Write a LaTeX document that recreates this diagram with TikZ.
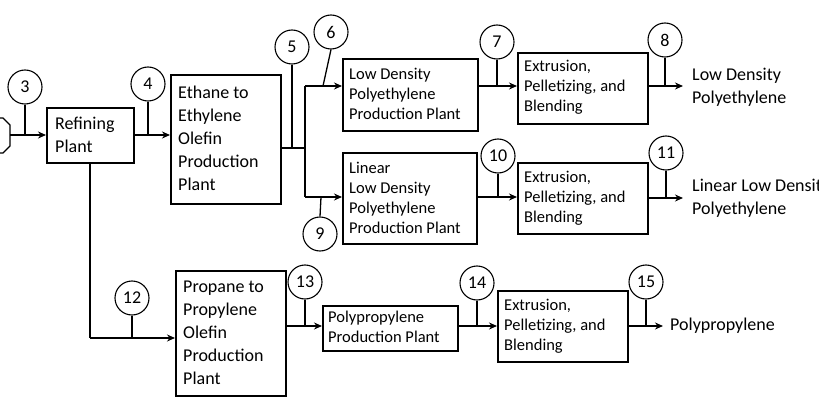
\documentclass[tikz,border=0pt]{standalone}
\usepackage{fontspec}
\setmainfont{Carlito}
\usetikzlibrary{arrows.meta}
\begin{document}
\begin{tikzpicture}[x=1pt,y=-1pt,
 box/.style={draw,line width=1.6pt,anchor=north west,inner sep=0pt},
 txt/.style={align=left,anchor=west,inner sep=0pt,font=\fontsize{18}{23}\selectfont},
 stxt/.style={align=left,anchor=west,inner sep=0pt,font=\fontsize{16.5}{20}\selectfont},
 num/.style={draw,circle,line width=1.1pt,minimum size=34pt,inner sep=0pt,font=\fontsize{18}{18}\selectfont},
 ar/.style={line width=1.3pt,-{Stealth[length=8pt,width=7pt]}},
 ln/.style={line width=1.3pt}]
\useasboundingbox (0,0) rectangle (819,409);
\clip (0,0) rectangle (819,409);
% boxes
\newcommand{\bx}[5]{\node[box,minimum width=#4-#2,minimum height=#5-#3] (#1) at (#2,#3) {};}
\bx{ref}{46}{107}{133}{162}
\bx{eth}{170}{74}{280}{203}
\bx{ldpe}{342}{58}{477}{130}
\bx{lldpe}{342}{152}{476}{243}
\bx{ex1}{517}{52}{647}{123}
\bx{ex2}{517}{162}{647}{233}
\bx{pro}{175}{270}{285}{395}
\bx{pp}{322}{305}{457}{350}
\bx{ex3}{497}{290}{627}{361}
\node[txt] at (55,135) {Refining\\Plant};
\node[txt] at (178,138) {Ethane to\\Ethylene\\Olefin\\Production\\Plant};
\node[stxt] at (349,94) {Low Density\\Polyethylene\\Production Plant};
\node[stxt] at (349,198) {Linear\\Low Density\\Polyethylene\\Production Plant};
\node[stxt] at (524,87) {Extrusion,\\Pelletizing, and\\Blending};
\node[stxt] at (524,198) {Extrusion,\\Pelletizing, and\\Blending};
\node[txt] at (183,333) {Propane to\\Propylene\\Olefin\\Production\\Plant};
\node[stxt] at (328,327) {Polypropylene\\Production Plant};
\node[stxt] at (504,326) {Extrusion,\\Pelletizing, and\\Blending};
\node[txt] (o1) at (692,87) {Low Density\\Polyethylene};
\node[txt] (o2) at (692,198) {Linear Low Density\\Polyethylene};
\node[txt] (o3) at (670,326) {Polypropylene};
% feed
\draw[line width=1.4pt,fill=white] (-10,118) -- (3,118) -- (10,125) -- (10,146) -- (3,153) -- (-10,153);
\coordinate (fd) at (10,135);
\draw[ar] (fd) -- (ref.west|-fd);
\coordinate (br) at (305,148);
\draw[ln] (eth.east|-br) -- (br);
\coordinate (bt) at (305,86); \coordinate (bb) at (305,197);
\draw[ln] (bt) -- (bb);
\draw[ar] (bt) -- (ldpe.west|-bt);
\draw[ar] (bb) -- (lldpe.west|-bb);
\draw[ar] (ref.east|-fd) -- (eth.west|-fd);
\draw[ar] (ldpe.east|-bt) -- (ex1.west|-bt);
\draw[ar] (lldpe.east|-bb) -- (ex2.west|-bb);
\coordinate (e1) at (683,86); \coordinate (e2) at (683,198);
\draw[ar] (ex1.east|-bt) -- (e1);
\draw[ar] (ex2.east|-e2) -- (e2);
\coordinate (rc) at (90,338);
\draw[ln] (ref.south-|rc) -- (rc);
\draw[ar] (rc) -- (pro.west|-rc);
\coordinate (pr) at (0,326);
\coordinate (e3) at (663,326);
\draw[ar] (pro.east|-pr) -- (pp.west|-pr);
\draw[ar] (pp.east|-pr) -- (ex3.west|-pr);
\draw[ar] (ex3.east|-pr) -- (e3);
% numbers
\newcommand{\nm}[5]{\node[num] (n#1) at (#2,#3) {#1}; \draw[ln] (n#1.south) -- (#4,#5);}
\nm{3}{25}{87}{25}{135}
\nm{4}{148}{84}{148}{135}
\nm{5}{292}{47}{292}{148}
\nm{7}{497}{42}{497}{86}
\nm{8}{665}{40}{665}{86}
\nm{10}{498}{156}{498}{198}
\nm{11}{666}{153}{666}{198}
\nm{12}{132}{298}{132}{338}
\nm{13}{305}{282}{305}{326}
\nm{14}{477}{283}{477}{326}
\nm{15}{646}{282}{646}{326}
\node[num] (n6) at (331,32) {6}; \draw[ln] (n6.south) -- (323,86);
\node[num] (n9) at (320,234) {9}; \draw[ln] (n9.north) -- (321,197);
\end{tikzpicture}
\end{document}
